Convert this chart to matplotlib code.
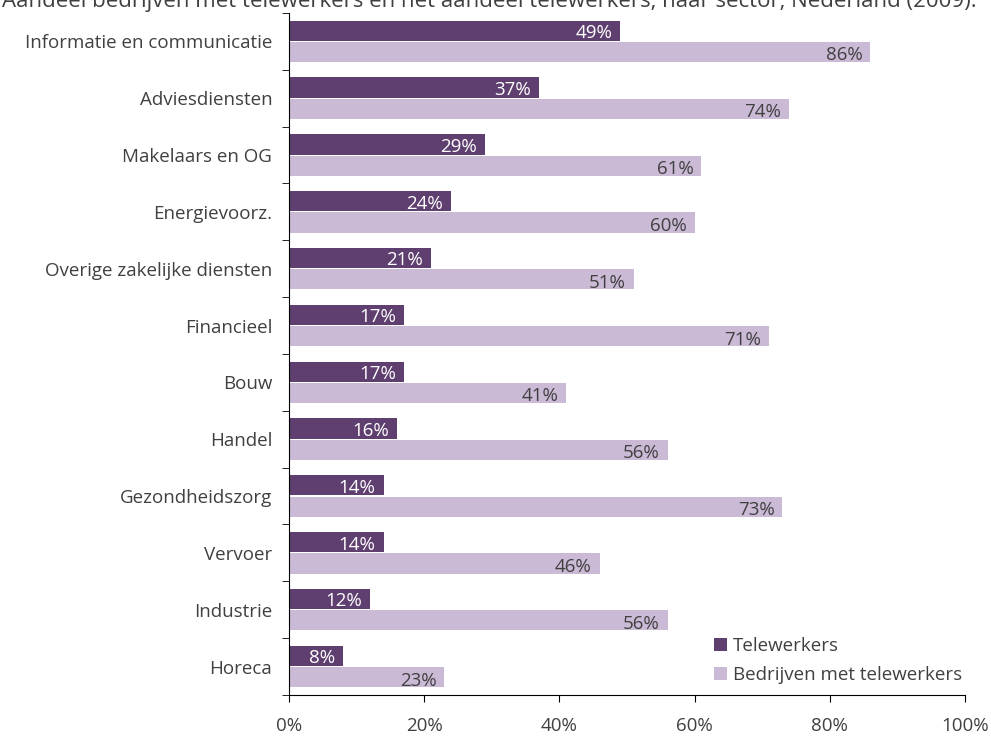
import matplotlib.pyplot as plt
import numpy as np

# data
sectors = ["Informatie en communicatie", "Adviesdiensten", "Makelaars en OG", "Energievoorz.",
           "Overige zakelijke diensten", "Financieel", "Bouw", "Handel", "Gezondheidszorg",
           "Vervoer", "Industrie", "Horeca"]
telewerkers = [49, 37, 29, 24, 21, 17, 17, 16, 14, 14, 12, 8]
bedrijven = [86, 74, 61, 60, 51, 71, 41, 56, 73, 46, 56, 23]
xticks = [0, 20, 40, 60, 80, 100]

dark = '#5f3f70'
light = '#cbbad6'
txt = '#404040'
fs = 13.5

plt.rcParams['font.family'] = ['Open Sans', 'DejaVu Sans']

fig = plt.figure(figsize=(9.91, 7.38), dpi=100)
ax = fig.add_axes([0.2916, 0.0583, 0.6822, 0.9241])

n = len(sectors)
pos = np.arange(n)
h = 0.355
b1 = ax.barh(pos - h/2 - 0.01, telewerkers, height=h, color=dark, label='Telewerkers')
b2 = ax.barh(pos + h/2 + 0.01, bedrijven, height=h, color=light, label='Bedrijven met telewerkers')

# value labels just inside bar ends
for r, v in zip(b1, telewerkers):
    ax.text(r.get_width() - 1.2, r.get_y() + r.get_height()/2 + 0.04, "%d%%" % v,
            ha='right', va='center', color='white', fontsize=fs)
for r, v in zip(b2, bedrijven):
    ax.text(r.get_width() - 1.2, r.get_y() + r.get_height()/2 + 0.06, "%d%%" % v,
            ha='right', va='center', color=txt, fontsize=fs)

ax.set_ylim(n - 0.5, -0.5)
ax.set_xlim(0, 100)
ax.set_xticks(xticks)
ax.set_xticklabels(["%d%%" % x for x in xticks], fontsize=fs, color=txt)
ax.tick_params(axis='x', direction='out', length=5, pad=11, color='black')

ax.set_yticks(pos)
ax.set_yticklabels(sectors, fontsize=fs, color=txt)
ax.tick_params(axis='y', which='major', length=0, pad=12)
ax.set_yticks(np.arange(n + 1) - 0.5, minor=True)
ax.tick_params(axis='y', which='minor', direction='out', length=5, color='black')

for s in ['top', 'right']:
    ax.spines[s].set_visible(False)

leg = ax.legend(loc='lower right', bbox_to_anchor=(1.012, 0.0), frameon=False, fontsize=fs,
                handlelength=0.7, handleheight=0.7, handletextpad=0.3, labelspacing=0.55,
                borderaxespad=0.2)
for t in leg.get_texts():
    t.set_color(txt)

# title sits partly above the top edge, as in the source image
fig.text(0.002, 1 - 7/738, "Aandeel bedrijven met telewerkers en het aandeel telewerkers, naar sector, Nederland (2009).",
         ha='left', va='baseline', fontsize=16, color=txt)

fig.savefig('out.png', dpi=100)
